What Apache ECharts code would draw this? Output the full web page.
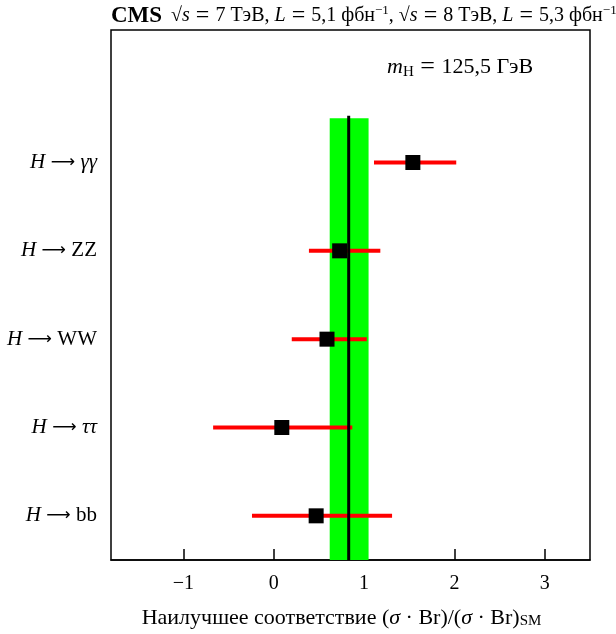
<!DOCTYPE html>
<html>
<head>
<meta charset="utf-8">
<script src="https://cdn.jsdelivr.net/npm/echarts@6/dist/echarts.min.js"></script>
<style>
  html, body { margin: 0; padding: 0; background: #fff; }
  #chart { width: 616px; height: 634px; }
</style>
</head>
<body>
<div id="chart"></div>
<script>
// каналы распада снизу вверх
const channels = ['bb', 'ττ', 'WW', 'ZZ', 'γγ'];
const greekChannel = [false, true, false, false, true];
const bestFit = [0.47, 0.09, 0.59, 0.73, 1.54];
const errLow = [-0.24, -0.67, 0.20, 0.39, 1.11];
const errHigh = [1.31, 0.87, 1.03, 1.18, 2.02];
const rowPos = [0.5, 1.5, 2.5, 3.5, 4.5];
// общий результат
const combined = 0.83;
const combinedBand = [0.62, 1.05];
const xTicks = [-1, 0, 1, 2, 3];

const SERIF = '"Liberation Serif", "DejaVu Serif", serif';
const ARROW = '"DejaVu Sans", sans-serif';

function txt(size, extra) {
  return Object.assign({ fontFamily: SERIF, fontSize: size, fontWeight: 'normal', color: '#000' }, extra || {});
}

const chart = echarts.init(document.getElementById('chart'), null, { renderer: 'canvas' });

const option = {
  animation: false,
  backgroundColor: '#fff',
  textStyle: { fontFamily: SERIF, color: '#000' },
  title: [
    {
      left: 111, top: 4, padding: 0,
      text: '{b|CMS}  {n|√}{i|s}{eq| = }{n|7 ТэВ, }{i|L}{eq| = }{n|5,1 фбн}{sup|−1}{n|, √}{i|s}{eq| = }{n|8 ТэВ, }{i|L}{eq| = }{n|5,3 фбн}{sup|−1}',
      textStyle: {
        fontWeight: 'normal',
        rich: {
          b: txt(23, { fontWeight: 'bold' }),
          n: txt(20),
          eq: txt(24),
          i: txt(20, { fontStyle: 'italic' }),
          sup: txt(13, { verticalAlign: 'top' })
        }
      }
    },
    {
      left: 387, top: 54, padding: 0,
      text: '{i|m}{sub|H}{eq| = }{n|125,5 ГэВ}',
      textStyle: {
        fontWeight: 'normal',
        rich: {
          n: txt(22),
          eq: txt(26),
          i: txt(22, { fontStyle: 'italic' }),
          sub: txt(15, { verticalAlign: 'bottom' })
        }
      }
    }
  ],
  grid: {
    left: 111, right: 26, top: 30, bottom: 73,
    show: true, borderColor: '#000', borderWidth: 1.5, backgroundColor: 'transparent'
  },
  xAxis: {
    type: 'value',
    min: -1.8, max: 3.5,
    splitLine: { show: false },
    axisLine: { show: true, lineStyle: { color: '#000', width: 1.5 } },
    axisTick: { show: true, inside: true, length: 11, lineStyle: { color: '#000', width: 1.5 }, customValues: xTicks },
    axisLabel: {
      customValues: xTicks,
      margin: 14, fontSize: 20, fontFamily: SERIF, color: '#000',
      formatter: v => (v < 0 ? '−' + Math.abs(v) : String(v))
    },
    name: '{n|Наилучшее соответствие (}{i|σ}{n| · Br)/(}{i|σ}{n| · Br)}{sub|SM}',
    nameLocation: 'middle',
    nameGap: 47,
    nameTextStyle: {
      padding: [0, 18, 0, 0],
      rich: {
        n: txt(22),
        i: txt(22, { fontStyle: 'italic' }),
        sub: txt(15, { verticalAlign: 'bottom' })
      }
    }
  },
  yAxis: {
    type: 'value',
    min: 0, max: 6,
    splitLine: { show: false },
    axisLine: { show: false },
    axisTick: { show: false },
    axisLabel: {
      customValues: rowPos,
      margin: 14,
      formatter: v => {
        const k = rowPos.indexOf(v);
        if (k < 0) return '';
        return '{i|H}{a| ⟶ }' + (greekChannel[k] ? '{i|' : '{n|') + channels[k] + '}';
      },
      rich: {
        n: txt(21),
        i: txt(21, { fontStyle: 'italic' }),
        a: { fontFamily: ARROW, fontSize: 17, color: '#000' }
      }
    }
  },
  series: [
    {
      type: 'custom',
      name: 'band',
      z: 1,
      silent: true,
      data: [[combinedBand[0], combinedBand[1]]],
      renderItem: (params, api) => {
        const p0 = api.coord([api.value(0), 5]);
        const p1 = api.coord([api.value(1), 0]);
        return {
          type: 'rect',
          shape: { x: p0[0], y: p0[1], width: p1[0] - p0[0], height: p1[1] - p0[1] },
          style: { fill: '#00ff00' }
        };
      }
    },
    {
      type: 'custom',
      name: 'errors',
      z: 2,
      silent: true,
      data: channels.map((c, i) => [errLow[i], errHigh[i], rowPos[i]]),
      encode: { x: [0, 1], y: 2 },
      renderItem: (params, api) => {
        const a = api.coord([api.value(0), api.value(2)]);
        const b = api.coord([api.value(1), api.value(2)]);
        return {
          type: 'line',
          shape: { x1: a[0], y1: a[1], x2: b[0], y2: b[1] },
          style: { stroke: '#ff0000', lineWidth: 4 }
        };
      }
    },
    {
      type: 'custom',
      name: 'combined',
      z: 3,
      silent: true,
      data: [[combined]],
      renderItem: (params, api) => {
        const a = api.coord([api.value(0), 5.03]);
        const b = api.coord([api.value(0), 0]);
        return {
          type: 'line',
          shape: { x1: a[0], y1: a[1], x2: b[0], y2: b[1] },
          style: { stroke: '#000', lineWidth: 3 }
        };
      }
    },
    {
      type: 'scatter',
      name: 'fit',
      z: 4,
      symbol: 'rect',
      symbolSize: 15,
      itemStyle: { color: '#000', opacity: 1 },
      data: channels.map((c, i) => [bestFit[i], rowPos[i]])
    }
  ]
};

chart.setOption(option);
</script>
</body>
</html>
